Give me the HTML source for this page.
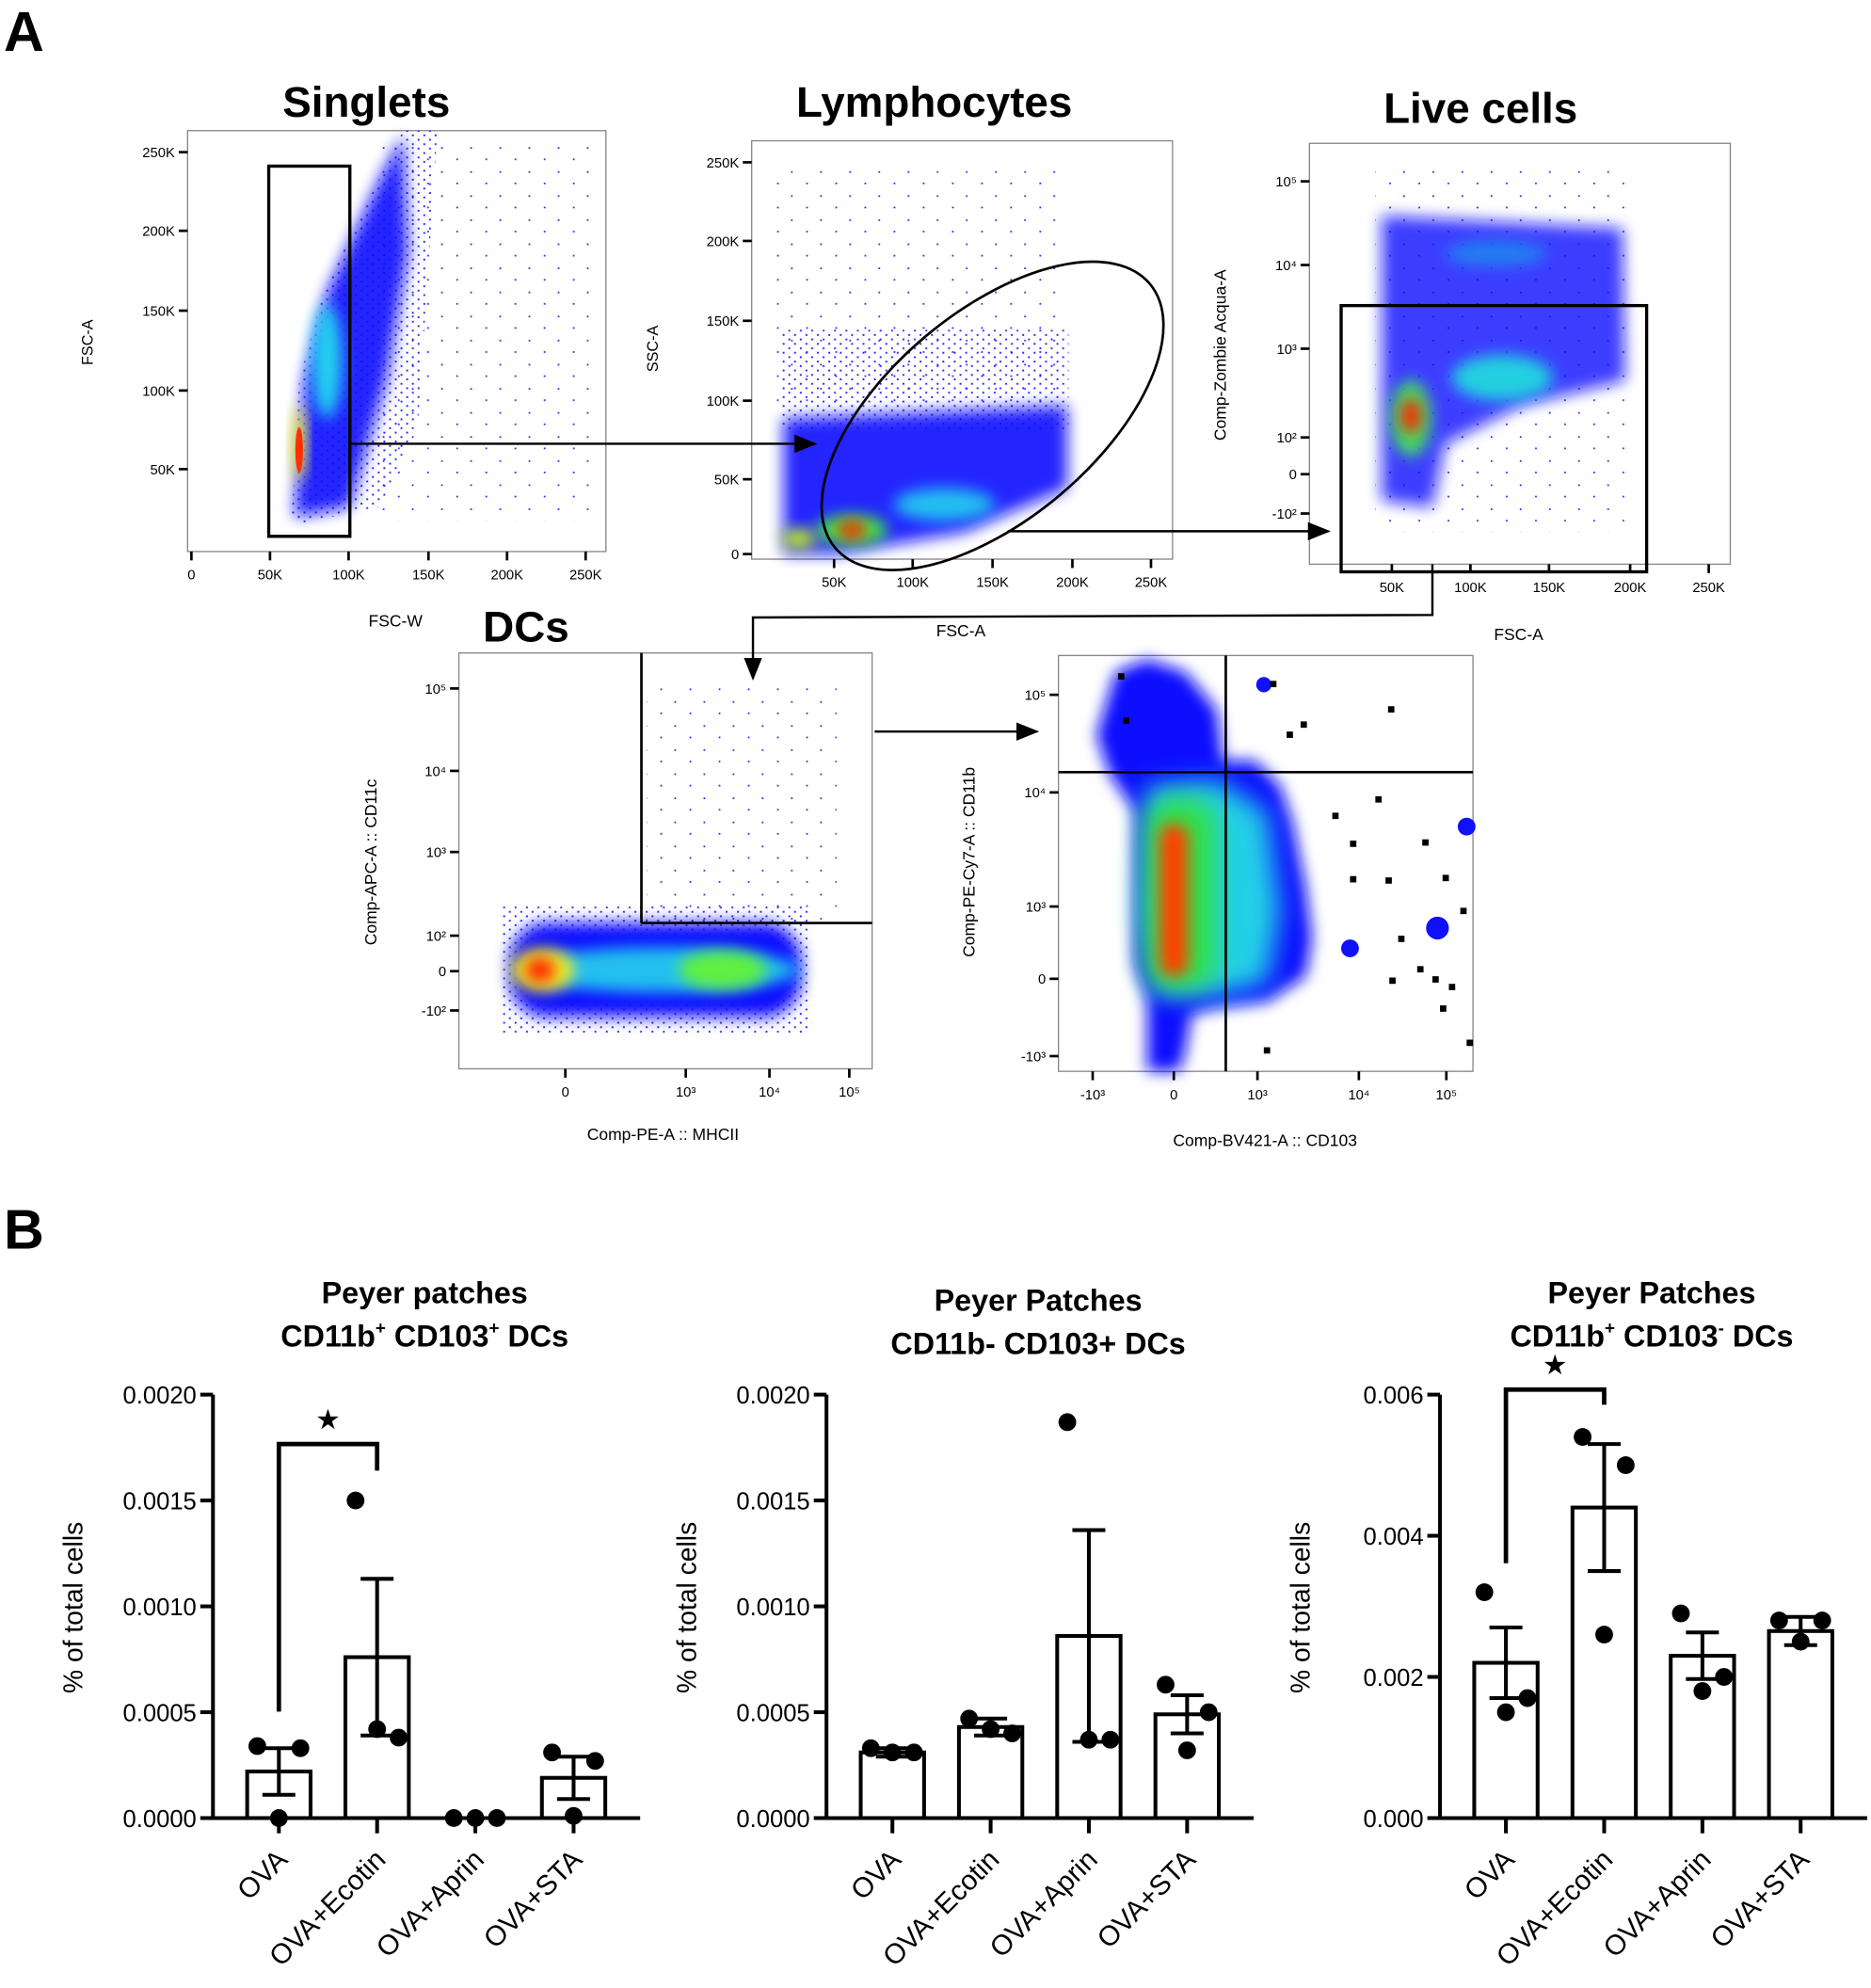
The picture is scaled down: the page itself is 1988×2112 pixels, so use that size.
<!DOCTYPE html>
<html><head><meta charset="utf-8"><style>
html,body{margin:0;padding:0;background:#fff;}
svg{display:block;font-family:"Liberation Sans",Arial,sans-serif;}
</style></head><body>
<svg id="fig" width="1988" height="2112" viewBox="0 0 1476 1568" xmlns="http://www.w3.org/2000/svg">
<defs>
<filter id="bl" x="-50%" y="-50%" width="200%" height="200%"><feGaussianBlur stdDeviation="6"/></filter>
<filter id="bl2" x="-50%" y="-50%" width="200%" height="200%"><feGaussianBlur stdDeviation="10"/></filter>
<pattern id="dots" width="9" height="7" patternUnits="userSpaceOnUse"><rect x="1" y="1" width="1.4" height="1.4" fill="#1a1aff"/><rect x="5.5" y="4.5" width="1.4" height="1.4" fill="#1a1aff"/></pattern>
<pattern id="dotsS" width="23" height="19" patternUnits="userSpaceOnUse"><rect x="3" y="2" width="1.3" height="1.3" fill="#2222ff"/><rect x="15" y="11" width="1.3" height="1.3" fill="#2222ff"/></pattern>
<marker id="ar" markerWidth="10" markerHeight="10" refX="9" refY="5" orient="auto"><path d="M0,1 L10,5 L0,9 z" fill="#000"/></marker>
</defs>

<text x="3" y="40" font-size="44" font-weight="bold">A</text>
<text x="3" y="985" font-size="44" font-weight="bold">B</text>

<!-- Singlets -->
<g>
<text x="289" y="92" font-size="34" font-weight="bold" text-anchor="middle">Singlets</text>
<rect x="148" y="103" width="330" height="332" fill="#fff" stroke="#888" stroke-width="1"/>
<rect x="300" y="110" width="170" height="300" fill="url(#dotsS)"/>
<polygon points="230,410 236,300 255,230 318,103 345,103 340,180 330,330 300,400 240,412" fill="url(#dots)"/>
<polygon points="232,408 240,300 258,230 300,140 318,106 322,200 305,300 276,400" fill="#1010ff" filter="url(#bl)" opacity="0.9"/>
<ellipse cx="258" cy="285" rx="12" ry="45" fill="#20d0f0" filter="url(#bl)"/>
<ellipse cx="236" cy="350" rx="5" ry="30" fill="#e0e020" filter="url(#bl)"/>
<ellipse cx="236" cy="355" rx="3" ry="18" fill="#ff3000"/>
<rect x="212" y="131" width="64" height="292" fill="none" stroke="#000" stroke-width="2.5"/>
<text x="73" y="270" font-size="12" transform="rotate(-90 73 270)" text-anchor="middle">FSC-A</text>
<text x="312" y="494" font-size="13" text-anchor="middle">FSC-W</text>
</g>

<!-- Lymphocytes -->
<g>
<text x="737" y="92" font-size="34" font-weight="bold" text-anchor="middle">Lymphocytes</text>
<rect x="593" y="111" width="332" height="330" fill="#fff" stroke="#888" stroke-width="1"/>
<rect x="610" y="130" width="230" height="190" fill="url(#dotsS)"/>
<rect x="615" y="260" width="228" height="80" fill="url(#dots)"/>
<path d="M618,330 L842,320 L842,385 L760,420 L660,437 L618,437 Z" fill="#1010ff" filter="url(#bl)" opacity="0.9"/>
<ellipse cx="745" cy="398" rx="40" ry="13" fill="#20c0f0" filter="url(#bl)"/>
<ellipse cx="672" cy="418" rx="28" ry="12" fill="#40f040" filter="url(#bl)"/>
<ellipse cx="672" cy="418" rx="12" ry="7" fill="#ff2000" filter="url(#bl)"/>
<ellipse cx="630" cy="425" rx="14" ry="8" fill="#c0f020" filter="url(#bl)"/>
<ellipse cx="783" cy="328" rx="162" ry="82" transform="rotate(-40 783 328)" fill="none" stroke="#000" stroke-width="2"/>
<text x="519" y="275" font-size="12" transform="rotate(-90 519 275)" text-anchor="middle">SSC-A</text>
<text x="758" y="502" font-size="13" text-anchor="middle">FSC-A</text>
</g>

<!-- Live cells -->
<g>
<text x="1168" y="97" font-size="34" font-weight="bold" text-anchor="middle">Live cells</text>
<rect x="1033" y="113" width="332" height="332" fill="#fff" stroke="#888" stroke-width="1"/>
<rect x="1085" y="130" width="200" height="290" fill="url(#dotsS)"/>
<path d="M1090,170 L1280,180 L1282,300 L1200,320 L1140,350 L1130,400 L1090,395 Z" fill="#1010ff" filter="url(#bl)" opacity="0.8"/>
<ellipse cx="1185" cy="298" rx="40" ry="18" fill="#20d0e0" filter="url(#bl)"/>
<ellipse cx="1180" cy="200" rx="40" ry="10" fill="#2080f0" filter="url(#bl)"/>
<ellipse cx="1113" cy="330" rx="16" ry="30" fill="#40e060" filter="url(#bl)"/>
<ellipse cx="1113" cy="328" rx="8" ry="14" fill="#ff2000" filter="url(#bl)"/>
<rect x="1058" y="241" width="241" height="210" fill="none" stroke="#000" stroke-width="2.5"/>
<text x="967" y="280" font-size="13" transform="rotate(-90 967 280)" text-anchor="middle">Comp-Zombie Acqua-A</text>
<text x="1198" y="505" font-size="13" text-anchor="middle">FSC-A</text>
</g>

<!-- DCs -->
<g>
<text x="415" y="506" font-size="34" font-weight="bold" text-anchor="middle">DCs</text>
<rect x="362" y="515" width="326" height="328" fill="#fff" stroke="#888" stroke-width="1"/>
<rect x="510" y="540" width="150" height="190" fill="url(#dotsS)"/>
<rect x="395" y="715" width="245" height="100" fill="url(#dots)"/>
<rect x="402" y="728" width="230" height="74" rx="30" fill="#1010ff" filter="url(#bl)"/>
<ellipse cx="520" cy="765" rx="110" ry="18" fill="#20c0f0" filter="url(#bl)"/>
<ellipse cx="570" cy="765" rx="35" ry="15" fill="#60f040" filter="url(#bl)"/>
<ellipse cx="428" cy="765" rx="25" ry="17" fill="#f0f020" filter="url(#bl)"/>
<ellipse cx="426" cy="765" rx="12" ry="10" fill="#ff2000" filter="url(#bl)"/>
<line x1="506" y1="515" x2="506" y2="728" stroke="#000" stroke-width="2"/>
<line x1="506" y1="728" x2="688" y2="728" stroke="#000" stroke-width="2"/>
<text x="297" y="680" font-size="13" transform="rotate(-90 297 680)" text-anchor="middle">Comp-APC-A :: CD11c</text>
<text x="523" y="899" font-size="13" text-anchor="middle">Comp-PE-A :: MHCII</text>
</g>

<!-- CD11b vs CD103 -->
<g>
<rect x="835" y="517" width="327" height="328" fill="#fff" stroke="#888" stroke-width="1"/>
<path d="M880,530 L905,520 L935,530 L960,560 L965,600 L990,600 L1010,620 L1020,650 L1030,700 L1035,740 L1030,770 L1000,790 L960,795 L940,800 L935,830 L930,845 L905,845 L905,790 L895,760 L895,640 L875,610 L865,580 Z" fill="#1010ff" filter="url(#bl)"/>
<path d="M905,620 L960,615 L1000,640 L1010,720 L1000,775 L960,785 L910,785 L900,720 Z" fill="#20d0e8" filter="url(#bl2)"/>
<rect x="904" y="630" width="55" height="150" rx="20" fill="#30e040" filter="url(#bl2)"/>
<rect x="915" y="650" width="22" height="120" rx="10" fill="#ff4000" filter="url(#bl)"/>
<circle cx="1134" cy="732" r="9" fill="#1010ff"/>
<circle cx="1065" cy="748" r="7" fill="#1010ff"/>
<circle cx="1157" cy="652" r="7" fill="#1010ff"/>
<circle cx="997" cy="540" r="6" fill="#1010ff"/>
<g fill="#000">
<rect x="882" y="531" width="5" height="5"/><rect x="886" y="566" width="5" height="5"/><rect x="1002" y="537" width="5" height="5"/><rect x="1015" y="577" width="5" height="5"/><rect x="1026" y="569" width="5" height="5"/><rect x="1095" y="557" width="5" height="5"/><rect x="1051" y="641" width="5" height="5"/><rect x="1085" y="628" width="5" height="5"/><rect x="1122" y="662" width="5" height="5"/><rect x="1065" y="691" width="5" height="5"/><rect x="1093" y="692" width="5" height="5"/><rect x="1138" y="690" width="5" height="5"/><rect x="1103" y="738" width="5" height="5"/><rect x="1152" y="716" width="5" height="5"/><rect x="1130" y="770" width="5" height="5"/><rect x="1118" y="762" width="5" height="5"/><rect x="1143" y="776" width="5" height="5"/><rect x="1096" y="771" width="5" height="5"/><rect x="1136" y="793" width="5" height="5"/><rect x="1157" y="820" width="5" height="5"/><rect x="997" y="826" width="5" height="5"/><rect x="1065" y="663" width="5" height="5"/>
</g>
<line x1="967" y1="517" x2="967" y2="845" stroke="#000" stroke-width="2"/>
<line x1="835" y1="609" x2="1162" y2="609" stroke="#000" stroke-width="2"/>
<text x="769" y="680" font-size="13" transform="rotate(-90 769 680)" text-anchor="middle">Comp-PE-Cy7-A :: CD11b</text>
<text x="998" y="904" font-size="13" text-anchor="middle">Comp-BV421-A :: CD103</text>
</g>

<!-- arrows -->
<g stroke="#000" stroke-width="1.8" fill="none">
<line x1="276" y1="350" x2="643" y2="350" marker-end="url(#ar)"/>
<line x1="795" y1="419" x2="1048" y2="419" marker-end="url(#ar)"/>
<polyline points="1130,445 1130,485 594,487 594,535" marker-end="url(#ar)"/>
<line x1="690" y1="577" x2="818" y2="577" marker-end="url(#ar)"/>
</g>

<g id="flowAxes" font-size="11"></g>
<g id="charts"></g>
</svg>
<script>
const NS="http://www.w3.org/2000/svg";
function mk(tag,attrs,parent){const e=document.createElementNS(NS,tag);for(const k in attrs)e.setAttribute(k,attrs[k]);parent.appendChild(e);return e;}
const fa=document.getElementById('flowAxes');
const flowAxes=[
 {ax:'y',x:148,ticks:[[120,'250K'],[182,'200K'],[245,'150K'],[308,'100K'],[370,'50K']]},
 {ax:'x',y:435,ticks:[[151,'0'],[213,'50K'],[275,'100K'],[338,'150K'],[400,'200K'],[462,'250K']]},
 {ax:'y',x:593,ticks:[[128,'250K'],[190,'200K'],[253,'150K'],[316,'100K'],[378,'50K'],[437,'0']]},
 {ax:'x',y:441,ticks:[[658,'50K'],[720,'100K'],[783,'150K'],[846,'200K'],[908,'250K']]},
 {ax:'y',x:1033,ticks:[[143,'10⁵'],[209,'10⁴'],[275,'10³'],[345,'10²'],[374,'0'],[405,'-10²']]},
 {ax:'x',y:445,ticks:[[1098,'50K'],[1160,'100K'],[1222,'150K'],[1286,'200K'],[1348,'250K']]},
 {ax:'y',x:362,ticks:[[543,'10⁵'],[608,'10⁴'],[672,'10³'],[738,'10²'],[766,'0'],[797,'-10²']]},
 {ax:'x',y:843,ticks:[[446,'0'],[541,'10³'],[607,'10⁴'],[670,'10⁵']]},
 {ax:'y',x:835,ticks:[[548,'10⁵'],[625,'10⁴'],[715,'10³'],[772,'0'],[833,'-10³']]},
 {ax:'x',y:845,ticks:[[862,'-10³'],[926,'0'],[992,'10³'],[1072,'10⁴'],[1141,'10⁵']]}
];
flowAxes.forEach(a=>{a.ticks.forEach(t=>{
 if(a.ax==='y'){mk('line',{x1:a.x-7,y1:t[0],x2:a.x,y2:t[0],stroke:'#000','stroke-width':2},fa);
  const tx=mk('text',{x:a.x-10,y:t[0]+4,'text-anchor':'end'},fa);tx.textContent=t[1];}
 else{mk('line',{x1:t[0],y1:a.y,x2:t[0],y2:a.y+7,stroke:'#000','stroke-width':2},fa);
  const tx=mk('text',{x:t[0],y:a.y+22,'text-anchor':'middle'},fa);tx.textContent=t[1];}
});});

// ===== Bar chart data =====
const categories=['OVA','OVA+Ecotin','OVA+Aprin','OVA+STA'];
const means1=[0.00022,0.00076,0.0,0.00019];
const sems1=[0.00011,0.00037,0.0,0.0001];
const points1=[[0.00034,0.00033,0.0],[0.0015,0.00038,0.00042],[0.0,0.0,0.0],[0.00031,0.00027,0.00001]];
const ticks1=['0.0000','0.0005','0.0010','0.0015','0.0020'];
const means2=[0.00031,0.00043,0.00086,0.00049];
const sems2=[0.00002,0.00004,0.0005,0.00009];
const points2=[[0.00033,0.00031,0.00031],[0.00047,0.0004,0.00042],[0.00187,0.00037,0.00037],[0.00063,0.0005,0.00032]];
const ticks2=['0.0000','0.0005','0.0010','0.0015','0.0020'];
const means3=[0.0022,0.0044,0.0023,0.00265];
const sems3=[0.0005,0.0009,0.00033,0.0002];
const points3=[[0.0032,0.0017,0.0015],[0.0054,0.005,0.0026],[0.0029,0.002,0.0018],[0.0028,0.0028,0.0025]];
const ticks3=['0.000','0.002','0.004','0.006'];

const chartsG=document.getElementById('charts');
function drawChart(cfg){
 const g=mk('g',{},chartsG);
 
 
 const x0=cfg.x0,top=1100,bot=1434,xEnd=cfg.x0+337,ymax=cfg.ymax;
 const y=v=>bot-(v/ymax)*(bot-top);
 const cx=i=>x0+52+i*77.5;
 const t1=mk('text',{x:cfg.tx,y:cfg.ty,'font-size':24,'font-weight':'bold','text-anchor':'middle'},g);
 
 
 t1.textContent=cfg.t1;
 const t2=mk('text',{x:cfg.tx,y:cfg.ty+34,'font-size':24,'font-weight':'bold','text-anchor':'middle'},g);
 
 
 t2.innerHTML=cfg.t2;
 const yt=mk('text',{x:x0-103,y:1268,'font-size':21,'text-anchor':'middle',transform:`rotate(-90 ${x0-103} 1268)`},g);
 
 
 yt.textContent='% of total cells';
 cfg.means.forEach((m,i)=>{
  const b=mk('rect',{x:cx(i)-25,y:y(m),width:50,height:bot-y(m),fill:'#fff',stroke:'#000','stroke-width':3},g);
  
  
 });
 cfg.means.forEach((m,i)=>{
  const s=cfg.sems[i];
  if(s>0){
   const e=mk('path',{d:`M${cx(i)},${y(m-s)}V${y(m+s)}M${cx(i)-13},${y(m+s)}h26M${cx(i)-13},${y(m-s)}h26`,stroke:'#000','stroke-width':3,fill:'none'},g);
   
   
  }
 });
 const offs=[-17,17,0];
 cfg.points.forEach((arr,i)=>arr.forEach((v,j)=>{
  const p=mk('circle',{cx:cx(i)+offs[j],cy:y(v),r:7,fill:'#000'},g);
  
  
 }));
 const ya=mk('line',{x1:x0,y1:top,x2:x0,y2:bot+1.5,stroke:'#000','stroke-width':3},g);
 
 
 const xa=mk('line',{x1:x0-1.5,y1:bot,x2:xEnd,y2:bot,stroke:'#000','stroke-width':3},g);
 
 
 cfg.ticks.forEach((lab,k)=>{
  const v=ymax*k/(cfg.ticks.length-1);
  mk('line',{x1:x0-10,y1:y(v),x2:x0,y2:y(v),stroke:'#000','stroke-width':3},g);
  const tl=mk('text',{x:x0-13,y:y(v)+7,'font-size':19,'text-anchor':'end'},g);
  
  
  tl.textContent=lab;
 });
 categories.forEach((c,i)=>{
  mk('line',{x1:cx(i),y1:bot,x2:cx(i),y2:bot+12,stroke:'#000','stroke-width':3},g);
  const lx=cx(i)+8,ly=bot+34;
  const cl=mk('text',{x:lx,y:ly,'font-size':22,'text-anchor':'end',transform:`rotate(-45 ${lx} ${ly})`},g);
  
  
  cl.textContent=c;
 });
 if(cfg.sig){
  const [a,b,h,ya2,yb2]=cfg.sig;
  const br=mk('path',{d:`M${cx(a)},${ya2}V${h}H${cx(b)}V${yb2}`,stroke:'#000','stroke-width':3.5,fill:'none'},g);
  
  
  const st=mk('text',{x:(cx(a)+cx(b))/2,y:h-12,'font-size':22,'text-anchor':'middle'},g);
  
  
  st.textContent='★';
 }
}
drawChart({name:'chart-cd11b-pos-cd103-pos',x0:168,ymax:0.002,means:means1,sems:sems1,points:points1,ticks:ticks1,tx:335,ty:1028,t1:'Peyer patches',t2:'CD11b<tspan font-size="14" dy="-10">+</tspan><tspan dy="10"> CD103</tspan><tspan font-size="14" dy="-10">+</tspan><tspan dy="10"> DCs</tspan>',sig:[0,1,1139,1350,1160]});
drawChart({name:'chart-cd11b-neg-cd103-pos',x0:652,ymax:0.002,means:means2,sems:sems2,points:points2,ticks:ticks2,tx:819,ty:1034,t1:'Peyer Patches',t2:'CD11b- CD103+ DCs'});
drawChart({name:'chart-cd11b-pos-cd103-neg',x0:1136,ymax:0.006,means:means3,sems:sems3,points:points3,ticks:ticks3,tx:1303,ty:1028,t1:'Peyer Patches',t2:'CD11b<tspan font-size="14" dy="-10">+</tspan><tspan dy="10"> CD103</tspan><tspan font-size="14" dy="-10">-</tspan><tspan dy="10"> DCs</tspan>',sig:[0,1,1096,1233,1108]});
</script>
</body></html>
